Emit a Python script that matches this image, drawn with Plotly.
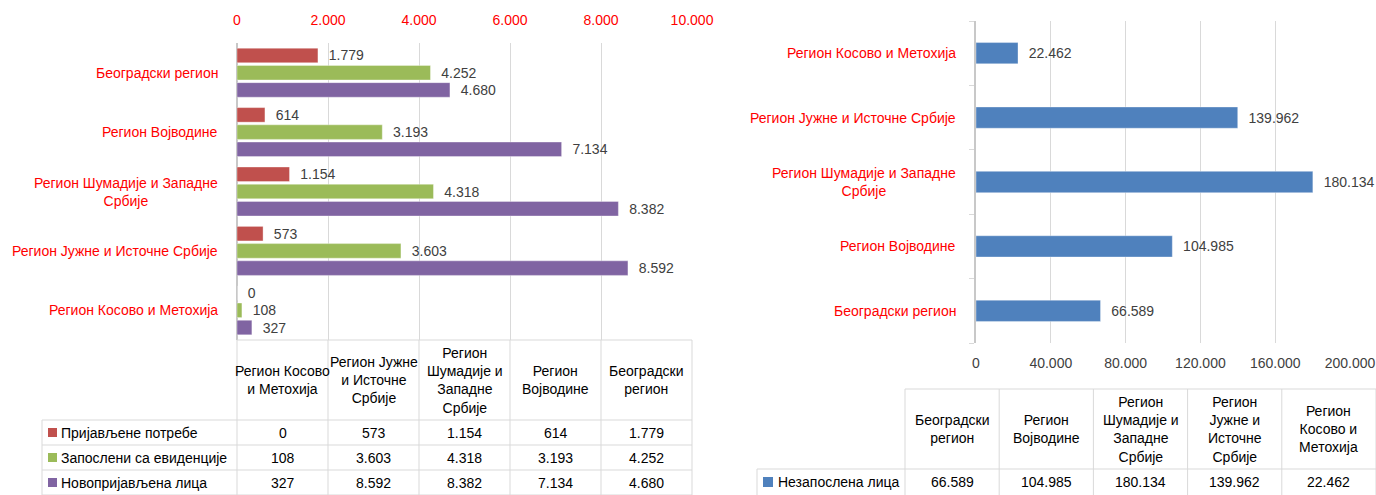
import plotly.graph_objects as go

# --- подаци ---
REGIONS_L = ["Регион Косово и Метохија", "Регион Јужне и Источне Србије",
             "Регион Шумадије и Западне Србије", "Регион Војводине", "Београдски регион"]
AXIS_L = ["Регион Косово и Метохија", "Регион Јужне и Источне Србије",
          "Регион Шумадије и Западне<br>Србије", "Регион Војводине", "Београдски регион"]
HEADER_L = ["Регион Косово<br>и Метохија", "Регион Јужне<br>и Источне<br>Србије",
            "Регион<br>Шумадије и<br>Западне<br>Србије", "Регион<br>Војводине", "Београдски<br>регион"]
SERIES_L = ["Пријављене потребе", "Запослени са евиденције", "Новопријављена лица"]
POTREBE = [0, 573, 1154, 614, 1779]
ZAPOSLENI = [108, 3603, 4318, 3193, 4252]
NOVOPRIJAVLJENI = [327, 8592, 8382, 7134, 4680]
TICKS_L = [0, 2000, 4000, 6000, 8000, 10000]
TICK_TEXT_L = ["0", "2.000", "4.000", "6.000", "8.000", "10.000"]

REGIONS_R = ["Београдски регион", "Регион Војводине", "Регион Шумадије и Западне Србије",
             "Регион Јужне и Источне Србије", "Регион Косово и Метохија"]
AXIS_R = ["Београдски регион", "Регион Војводине", "Регион Шумадије и Западне<br>Србије",
          "Регион Јужне и Источне Србије", "Регион Косово и Метохија"]
HEADER_R = ["Београдски<br>регион", "Регион<br>Војводине", "Регион<br>Шумадије и<br>Западне<br>Србије",
            "Регион<br>Јужне и<br>Источне<br>Србије", "Регион<br>Косово и<br>Метохија"]
SERIES_R = "Незапослена лица"
NEZAPOSLENI = [66589, 104985, 180134, 139962, 22462]
TICKS_R = [0, 40000, 80000, 120000, 160000, 200000]
TICK_TEXT_R = ["0", "40.000", "80.000", "120.000", "160.000", "200.000"]

COLORS_L = ["#C0504D", "#9BBB59", "#8064A2"]
COLOR_R = "#4F81BD"
FONT = "Liberation Sans, Arial, sans-serif"
GRID = "#D9D9D9"
LBL = "#404040"
W, H = 1376, 495


def px(x):
    return x / W


def py(y):
    return 1 - y / H


def fmt(v):
    return f"{v:,}".replace(",", ".")


fig = go.Figure()

# лева страна: три серије по региону
bar_w, slot = 0.245, 0.29
offsets = [slot - bar_w / 2, -bar_w / 2, -slot - bar_w / 2]
for name, vals, color, off in zip(SERIES_L, [POTREBE, ZAPOSLENI, NOVOPRIJAVLJENI], COLORS_L, offsets):
    fig.add_trace(go.Bar(
        x=vals, y=REGIONS_L, orientation="h", name=name,
        width=bar_w, offset=off,
        marker=dict(color=color, line=dict(color="rgba(255,255,255,0.35)", width=1)),
        text=["\u00a0\u00a0" + fmt(v) for v in vals], textposition="outside",
        constraintext="none", cliponaxis=False,
        textfont=dict(size=14, color=LBL, family=FONT),
        xaxis="x", yaxis="y", showlegend=False,
    ))

# десна страна
fig.add_trace(go.Bar(
    x=NEZAPOSLENI, y=REGIONS_R, orientation="h", name=SERIES_R,
    width=0.33,
    marker=dict(color=COLOR_R, line=dict(color="rgba(255,255,255,0.35)", width=1)),
    text=["\u00a0\u00a0" + fmt(v) for v in NEZAPOSLENI], textposition="outside",
    constraintext="none", cliponaxis=False,
    textfont=dict(size=14, color=LBL, family=FONT),
    xaxis="x2", yaxis="y2", showlegend=False,
))

L0, L1, LT, LB = 237, 692, 43, 340
R0, R1, RT, RB = 976, 1350, 21, 343

annotations = []
shapes = []


def hline(y, x0, x1):
    shapes.append(dict(type="line", xref="paper", yref="paper", x0=px(x0), x1=px(x1),
                       y0=py(y), y1=py(y), line=dict(color=GRID, width=1)))


def vline(x, y0, y1):
    shapes.append(dict(type="line", xref="paper", yref="paper", x0=px(x), x1=px(x),
                       y0=py(y0), y1=py(y1), line=dict(color=GRID, width=1)))


def text(x, y, s, anchor="center", color="#000000", align="center"):
    annotations.append(dict(xref="paper", yref="paper", x=px(x), y=py(y), text=s,
                            xanchor=anchor, yanchor="middle", align=align, showarrow=False,
                            font=dict(size=14, color=color, family=FONT)))


# називи категорија (центрирани редови, као у Excel-у)
for lab, reg in zip(AXIS_L, REGIONS_L):
    annotations.append(dict(xref="paper", yref="y", x=px(220), y=reg, text=lab, xanchor="right",
                            yanchor="middle", align="center", showarrow=False,
                            font=dict(size=14, color="#FF0000", family=FONT)))
for lab, reg in zip(AXIS_R, REGIONS_R):
    annotations.append(dict(xref="paper", yref="y2", x=px(958), y=reg, text=lab, xanchor="right",
                            yanchor="middle", align="center", showarrow=False,
                            font=dict(size=14, color="#FF0000", family=FONT)))

# табела лево
col_l = (L1 - L0) / len(REGIONS_L)
row_top = 420
row_h = 25
hline(LB, L0, L1)
for k in range(len(SERIES_L) + 1):
    hline(row_top + k * row_h, 42, L1)
for k in range(len(REGIONS_L) + 1):
    vline(L0 + k * col_l, LB, H + 5)
vline(42, row_top, H + 5)
for i, hdr in enumerate(HEADER_L):
    text(L0 + col_l * (i + 0.5), (LB + row_top) / 2, hdr)
for r, (name, vals, color) in enumerate(zip(SERIES_L, [POTREBE, ZAPOSLENI, NOVOPRIJAVLJENI], COLORS_L)):
    yc = row_top + row_h * (r + 0.5)
    shapes.append(dict(type="rect", xref="paper", yref="paper", x0=px(48), x1=px(57),
                       y0=py(yc + 4.5), y1=py(yc - 4.5), fillcolor=color, line=dict(width=0)))
    text(59, yc, name, anchor="left")
    for i, v in enumerate(vals):
        text(L0 + col_l * (i + 0.5), yc, fmt(v))

# табела десно
t0, col_r, top_r, row_r = 905, 94.2, 389, 469
hline(top_r, t0, W)
hline(row_r, 757, W)
for k in range(len(REGIONS_R) + 1):
    vline(t0 + k * col_r, top_r, H + 5)
vline(757, row_r, H + 5)
for i, hdr in enumerate(HEADER_R):
    text(t0 + col_r * (i + 0.5), (top_r + row_r) / 2, hdr)
yc = row_r + 13
shapes.append(dict(type="rect", xref="paper", yref="paper", x0=px(763), x1=px(773),
                   y0=py(yc + 5), y1=py(yc - 5), fillcolor=COLOR_R, line=dict(width=0)))
text(776, yc, SERIES_R, anchor="left")
for i, v in enumerate(NEZAPOSLENI):
    text(t0 + col_r * (i + 0.5), yc, fmt(v))

fig.update_layout(
    width=W, height=H, autosize=False,
    margin=dict(l=0, r=0, t=0, b=0, pad=0, autoexpand=False),
    paper_bgcolor="white", plot_bgcolor="white",
    barmode="overlay",
    font=dict(family=FONT, size=14, color=LBL),
    xaxis=dict(domain=[px(L0), px(L1)], range=[0, 10000], side="top", anchor="y",
               tickvals=TICKS_L, ticktext=TICK_TEXT_L, tickfont=dict(color="#FF0000", size=14),
               showgrid=True, gridcolor=GRID, gridwidth=1, zeroline=True, automargin=False,
               zerolinecolor="#C8C8C8", zerolinewidth=2, ticks="", ticklabelstandoff=14),
    yaxis=dict(domain=[py(LB), py(LT)], anchor="x", type="category", range=[-0.5, 4.5],
               showticklabels=False, showgrid=False, zeroline=False, automargin=False),
    xaxis2=dict(domain=[px(R0), px(R1)], range=[0, 200000], side="bottom", anchor="y2",
                tickvals=TICKS_R, ticktext=TICK_TEXT_R, tickfont=dict(color=LBL, size=14),
                showgrid=True, gridcolor=GRID, gridwidth=1, zeroline=False, automargin=False,
                ticks="", ticklabelstandoff=10),
    yaxis2=dict(domain=[py(RB), py(RT)], anchor="x2", type="category", range=[-0.5, 4.5],
                showticklabels=False, showgrid=False, zeroline=False, automargin=False,
                showline=True, linecolor="#C8C8C8", linewidth=2,
                ticks="outside", tickson="boundaries", ticklen=5, tickcolor=GRID),
    shapes=shapes,
    annotations=annotations,
)

# без маргине странице, да слика тачно попуни прозор
fig.write_html("out.html", config={"displayModeBar": False},
               post_script="document.body.style.margin='0';document.body.style.overflow='hidden';")
